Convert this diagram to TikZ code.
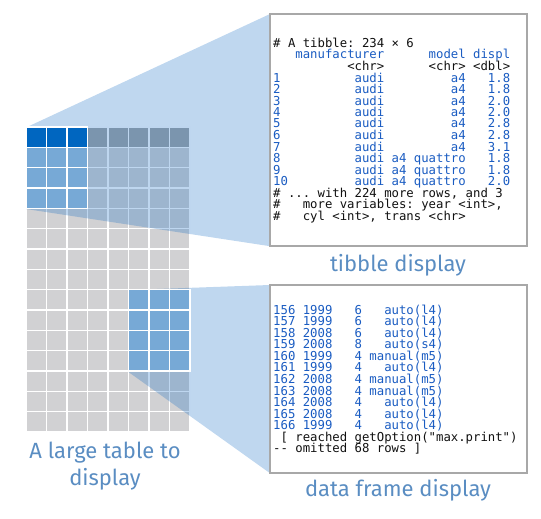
\documentclass[tikz,border=0pt]{standalone}
\usepackage{fontspec}
\setmainfont{Fira Sans}
\newfontfamily\lblfont{Fira Sans}
\newfontfamily\monofnt{DejaVu Sans Mono}
\definecolor{cellgray}{HTML}{D1D1D3}
\definecolor{headgray}{HTML}{A2A5A7}
\definecolor{cellblue}{HTML}{77A9D6}
\definecolor{headblue}{HTML}{0066C0}
\definecolor{veil}{HTML}{126BC4}
\definecolor{boxgray}{HTML}{A8A8A8}
\definecolor{codeblue}{HTML}{1A5CC2}
\definecolor{codedark}{HTML}{111111}
\definecolor{labelblue}{HTML}{5A8DC2}
\newcommand\sk[1]{\hspace*{\dimexpr#1\fontcharwd\font`0\relax}}
\tikzset{
  cell/.style={fill=#1, draw=white, line width=1.4pt},
  veilshape/.style={fill=veil, fill opacity=0.27, draw=none},
  panel/.style={draw=boxgray, line width=1.2pt, fill=white, anchor=north west, inner sep=0pt},
  code/.style={anchor=base west, inner sep=0pt, font=\monofnt\fontsize{12.3}{11.5}\selectfont},
  cb/.style={code, text=codeblue},
  cd/.style={code, text=codedark},
  lbl/.style={text=labelblue, font=\lblfont\fontsize{22}{27}\selectfont, align=center, inner sep=0pt}
}
\begin{document}
\begin{tikzpicture}[x=1pt,y=-1pt]
\useasboundingbox (0,0) rectangle (541,519);
% panels
\node[panel, minimum width=256pt, minimum height=231pt] (tib) at (270,14) {};
\node[panel, minimum width=256pt, minimum height=187pt] (df) at (270,285) {};
% grid
\foreach \c in {0,...,7}{
  \fill[cell=headgray] (26+\c*20.5,127) rectangle ++(20.5,20.33);
  \foreach \r in {1,...,14}{
    \fill[cell=cellgray] (26+\c*20.5,127+\r*20.33) rectangle ++(20.5,20.33);
  }
}
\foreach \c in {0,...,7}{
  \draw[white, line width=1.4pt] (26+\c*20.5,127) -- ++(0,305);
}
\foreach \r in {1,...,14}{
  \draw[white, line width=1.4pt] (26,127+\r*20.33) -- ++(164,0);
}
% grid anchor points
\coordinate (ga) at (26,127.5);
\coordinate (gb) at (26,209);
\coordinate (gc) at (128.5,290);
\coordinate (gd) at (128.5,372);
% veils
\fill[veilshape] (ga) -- (tib.north west) -- (tib.south west) -- (gb) -- cycle;
\fill[veilshape] (gc) -- (df.north west) -- (df.south west) -- (gd) -- cycle;
% blue cells
\foreach \c in {0,1,2}{
  \fill[cell=headblue] (26+\c*20.5,127) rectangle ++(20.5,20.33);
  \foreach \r in {1,2,3}{
    \fill[cell=cellblue] (26+\c*20.5,127+\r*20.33) rectangle ++(20.5,20.33);
  }
}
\foreach \c in {5,6,7}{
  \foreach \r in {8,...,11}{
    \fill[cell=cellblue] (26+\c*20.5,127+\r*20.33) rectangle ++(20.5,20.33);
  }
}
% redraw panel borders above veils
\draw[boxgray, line width=1.2pt] (tib.north west) rectangle (tib.south east);
\draw[boxgray, line width=1.2pt] (df.north west) rectangle (df.south east);
% tibble text
\node[cd] (t0) at (273,47.5) {\#\sk{1}A\sk{1}tibble:\sk{1}234\sk{1}×\sk{1}6};
\node[cb] (t1) at (273,59) {\sk{3}manufacturer\sk{6}model\sk{1}displ};
\node[cd] (t2) at (273,70.5) {\sk{10}<chr>\sk{6}<chr>\sk{1}<dbl>};
\node[cb] (t3) at (273,82) {1\sk{10}audi\sk{9}a4\sk{3}1.8};
\node[cb] (t4) at (273,93.5) {2\sk{10}audi\sk{9}a4\sk{3}1.8};
\node[cb] (t5) at (273,105) {3\sk{10}audi\sk{9}a4\sk{3}2.0};
\node[cb] (t6) at (273,116.5) {4\sk{10}audi\sk{9}a4\sk{3}2.0};
\node[cb] (t7) at (273,128) {5\sk{10}audi\sk{9}a4\sk{3}2.8};
\node[cb] (t8) at (273,139.5) {6\sk{10}audi\sk{9}a4\sk{3}2.8};
\node[cb] (t9) at (273,151) {7\sk{10}audi\sk{9}a4\sk{3}3.1};
\node[cb] (t10) at (273,162.5) {8\sk{10}audi\sk{1}a4\sk{1}quattro\sk{3}1.8};
\node[cb] (t11) at (273,174) {9\sk{10}audi\sk{1}a4\sk{1}quattro\sk{3}1.8};
\node[cb] (t12) at (273,185.5) {10\sk{9}audi\sk{1}a4\sk{1}quattro\sk{3}2.0};
\node[cd] (t13) at (273,197) {\#\sk{1}...\sk{1}with\sk{1}224\sk{1}more\sk{1}rows,\sk{1}and\sk{1}3};
\node[cd] (t14) at (273,208.5) {\#\sk{3}more\sk{1}variables:\sk{1}year\sk{1}<int>,};
\node[cd] (t15) at (273,220) {\#\sk{3}cyl\sk{1}<int>,\sk{1}trans\sk{1}<chr>};
% data frame text
\node[cb] (d0) at (273,314.3) {156\sk{1}1999\sk{3}6\sk{3}auto(l4)};
\node[cb] (d1) at (273,325.8) {157\sk{1}1999\sk{3}6\sk{3}auto(l4)};
\node[cb] (d2) at (273,337.3) {158\sk{1}2008\sk{3}6\sk{3}auto(l4)};
\node[cb] (d3) at (273,348.9) {159\sk{1}2008\sk{3}8\sk{3}auto(s4)};
\node[cb] (d4) at (273,360.4) {160\sk{1}1999\sk{3}4\sk{1}manual(m5)};
\node[cb] (d5) at (273,371.9) {161\sk{1}1999\sk{3}4\sk{3}auto(l4)};
\node[cb] (d6) at (273,383.5) {162\sk{1}2008\sk{3}4\sk{1}manual(m5)};
\node[cb] (d7) at (273,395.0) {163\sk{1}2008\sk{3}4\sk{1}manual(m5)};
\node[cb] (d8) at (273,406.5) {164\sk{1}2008\sk{3}4\sk{3}auto(l4)};
\node[cb] (d9) at (273,418.1) {165\sk{1}2008\sk{3}4\sk{3}auto(l4)};
\node[cb] (d10) at (273,429.6) {166\sk{1}1999\sk{3}4\sk{3}auto(l4)};
\node[cd] (d11) at (273,441.1) {\sk{1}[\sk{1}reached\sk{1}getOption("max.print")};
\node[cd] (d12) at (273,452.7) {-{}-\sk{1}omitted\sk{1}68\sk{1}rows\sk{1}]};
% labels
\node[lbl] (ltib) at (398,265) {tibble display};
\node[lbl] (ldf) at (398,490) {data frame display};
\node[lbl] (lbig) at (105,466) {A large table to\\display};
\end{tikzpicture}
\end{document}
